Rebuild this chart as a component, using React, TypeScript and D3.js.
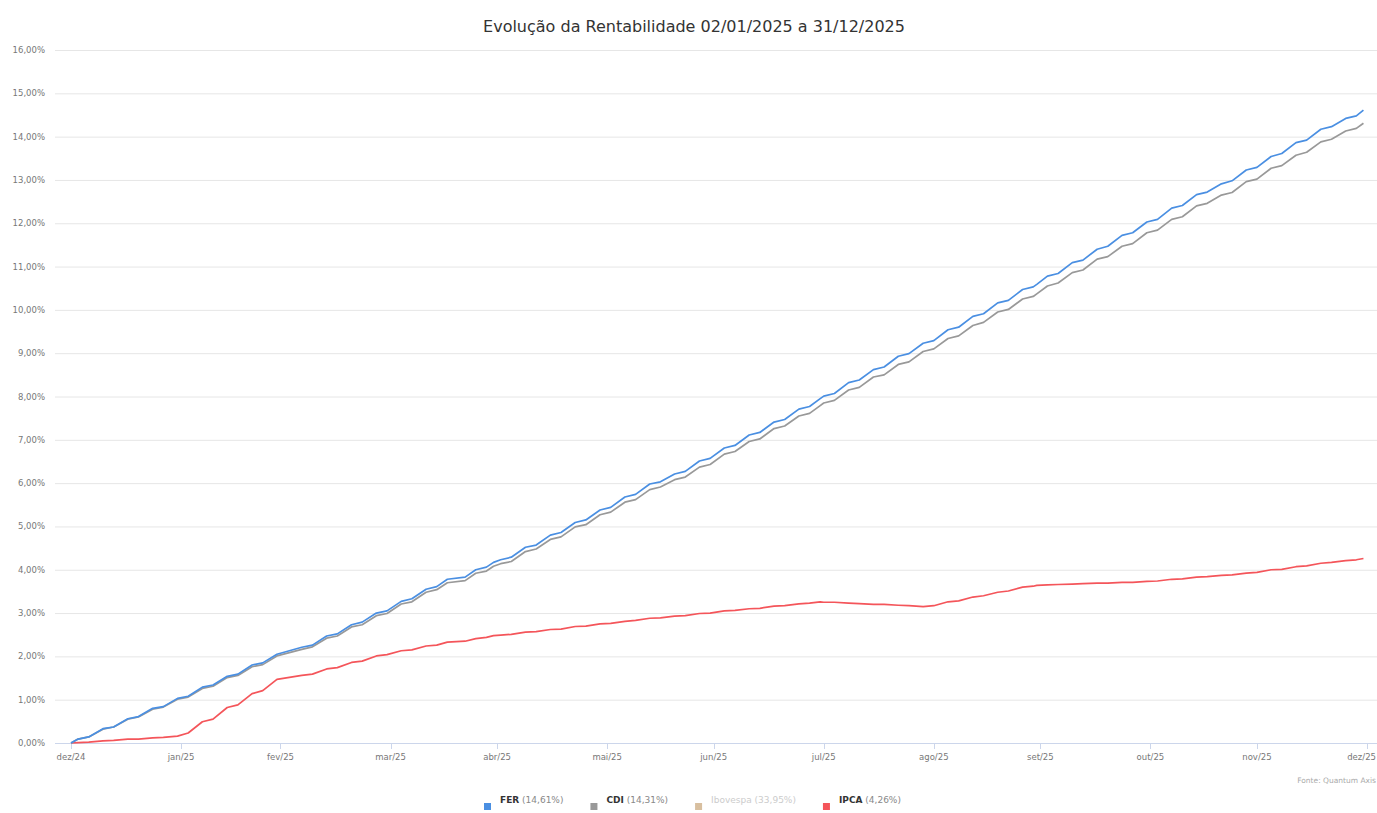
import React, { useEffect, useRef } from "react";
import * as d3 from "d3";

// checkpoints (Fri / Mon of each week, close values, % accumulated)
const dates = [
  "2025-01-01", "2025-01-03", "2025-01-06", "2025-01-10", "2025-01-13", "2025-01-17", "2025-01-20", "2025-01-24", "2025-01-27", "2025-01-31",
  "2025-02-03", "2025-02-07", "2025-02-10", "2025-02-14", "2025-02-17", "2025-02-21", "2025-02-24", "2025-02-28",
  "2025-03-07", "2025-03-10", "2025-03-14", "2025-03-17", "2025-03-21", "2025-03-24", "2025-03-28", "2025-03-31",
  "2025-04-04", "2025-04-07", "2025-04-11", "2025-04-14", "2025-04-17", "2025-04-22", "2025-04-25", "2025-04-28", "2025-04-30",
  "2025-05-02", "2025-05-05", "2025-05-09", "2025-05-12", "2025-05-16", "2025-05-19", "2025-05-23", "2025-05-26", "2025-05-30",
  "2025-06-02", "2025-06-06", "2025-06-09", "2025-06-13", "2025-06-16", "2025-06-20", "2025-06-23", "2025-06-27", "2025-06-30",
  "2025-07-04", "2025-07-07", "2025-07-11", "2025-07-14", "2025-07-18", "2025-07-21", "2025-07-25", "2025-07-28", "2025-07-31",
  "2025-08-01", "2025-08-04", "2025-08-08", "2025-08-11", "2025-08-15", "2025-08-18", "2025-08-22", "2025-08-25", "2025-08-29",
  "2025-09-01", "2025-09-05", "2025-09-08", "2025-09-12", "2025-09-15", "2025-09-19", "2025-09-22", "2025-09-26", "2025-09-29", "2025-09-30",
  "2025-10-03", "2025-10-06", "2025-10-10", "2025-10-13", "2025-10-17", "2025-10-20", "2025-10-24", "2025-10-27", "2025-10-31",
  "2025-11-03", "2025-11-07", "2025-11-10", "2025-11-14", "2025-11-17", "2025-11-21", "2025-11-24", "2025-11-28",
  "2025-12-01", "2025-12-05", "2025-12-08", "2025-12-12", "2025-12-15", "2025-12-19", "2025-12-22", "2025-12-26", "2025-12-29", "2025-12-31",
];

const fer = [
  0, 0.09, 0.14, 0.33, 0.37, 0.56, 0.61, 0.80, 0.84, 1.03,
  1.08, 1.29, 1.34, 1.54, 1.59, 1.80, 1.85, 2.05,
  2.21, 2.26, 2.47, 2.52, 2.73, 2.79, 3.00, 3.05,
  3.27, 3.33, 3.55, 3.61, 3.78, 3.83, 4.00, 4.06, 4.17,
  4.23, 4.29, 4.52, 4.57, 4.80, 4.86, 5.09, 5.15, 5.38,
  5.44, 5.68, 5.74, 5.98, 6.03, 6.21, 6.27, 6.51, 6.57,
  6.81, 6.87, 7.11, 7.17, 7.41, 7.47, 7.71, 7.77, 7.95,
  8.01, 8.07, 8.32, 8.38, 8.62, 8.68, 8.93, 8.99, 9.23,
  9.29, 9.54, 9.60, 9.85, 9.91, 10.16, 10.22, 10.47, 10.53, 10.59,
  10.78, 10.84, 11.09, 11.15, 11.40, 11.47, 11.72, 11.78, 12.03,
  12.09, 12.35, 12.41, 12.66, 12.72, 12.91, 12.98, 13.23,
  13.29, 13.54, 13.61, 13.86, 13.92, 14.17, 14.23, 14.42, 14.48, 14.61,
];

const cdi = [
  0, 0.09, 0.14, 0.32, 0.37, 0.55, 0.60, 0.78, 0.83, 1.01,
  1.06, 1.26, 1.31, 1.51, 1.56, 1.76, 1.81, 2.01,
  2.16, 2.22, 2.42, 2.47, 2.68, 2.73, 2.94, 2.99,
  3.21, 3.26, 3.48, 3.54, 3.70, 3.75, 3.92, 3.97, 4.08,
  4.14, 4.19, 4.42, 4.48, 4.70, 4.76, 4.99, 5.04, 5.27,
  5.33, 5.56, 5.62, 5.85, 5.91, 6.08, 6.14, 6.37, 6.43,
  6.67, 6.73, 6.96, 7.02, 7.26, 7.32, 7.55, 7.61, 7.79,
  7.85, 7.91, 8.15, 8.21, 8.45, 8.50, 8.74, 8.80, 9.04,
  9.10, 9.34, 9.40, 9.64, 9.71, 9.95, 10.01, 10.25, 10.31, 10.37,
  10.55, 10.62, 10.86, 10.92, 11.17, 11.23, 11.47, 11.53, 11.78,
  11.84, 12.09, 12.15, 12.40, 12.46, 12.65, 12.71, 12.96,
  13.02, 13.27, 13.33, 13.57, 13.64, 13.88, 13.94, 14.13, 14.19, 14.31,
];

const ipca = [
  0, 0.01, 0.02, 0.05, 0.06, 0.09, 0.09, 0.12, 0.13, 0.16,
  0.23, 0.49, 0.55, 0.82, 0.88, 1.14, 1.21, 1.47,
  1.56, 1.59, 1.71, 1.74, 1.86, 1.89, 2.01, 2.04,
  2.13, 2.15, 2.24, 2.26, 2.33, 2.35, 2.41, 2.44, 2.48,
  2.49, 2.51, 2.56, 2.57, 2.62, 2.63, 2.69, 2.70, 2.75,
  2.76, 2.81, 2.83, 2.88, 2.89, 2.93, 2.94, 2.99, 3.00,
  3.05, 3.06, 3.10, 3.11, 3.16, 3.17, 3.21, 3.23, 3.26,
  3.25, 3.25, 3.23, 3.22, 3.20, 3.20, 3.18, 3.17, 3.15,
  3.17, 3.26, 3.28, 3.37, 3.40, 3.48, 3.51, 3.60, 3.62, 3.64,
  3.65, 3.66, 3.67, 3.68, 3.69, 3.69, 3.71, 3.71, 3.73,
  3.74, 3.78, 3.79, 3.83, 3.84, 3.87, 3.88, 3.92,
  3.94, 4.00, 4.01, 4.07, 4.09, 4.15, 4.17, 4.21, 4.23, 4.26,
];

const monthLabels = ["dez/24", "jan/25", "fev/25", "mar/25", "abr/25", "mai/25", "jun/25", "jul/25", "ago/25", "set/25", "out/25", "nov/25", "dez/25"];
const yTicks = [0, 1, 2, 3, 4, 5, 6, 7, 8, 9, 10, 11, 12, 13, 14, 15, 16];

const seriesNames = ["FER", "CDI", "Ibovespa", "IPCA"];
const seriesTotals = ["(14,61%)", "(14,31%)", "(33,95%)", "(4,26%)"];
const seriesColors = ["#4a8fe2", "#999999", "#d8bf9f", "#f4555a"];
const seriesHidden = [false, false, true, false];

const FONT = "'DejaVu Sans', Verdana, sans-serif";

const App = () => {
  const svgRef = useRef<SVGSVGElement | null>(null);

  useEffect(() => {
    const width = 1377;
    const height = 813;
    const left = 55;
    const plotTop = 50;
    const plotBottom = 743;

    const svg = d3.select(svgRef.current).attr("width", width).attr("height", height);
    svg.selectAll("*").remove();

    const parse = d3.timeParse("%Y-%m-%d");
    const xs = dates.map((d) => parse(d) as Date);

    const x = d3.scaleTime()
      .domain([new Date(2025, 0, 1), new Date(2026, 0, 1)])
      .range([71, 1367]);
    const y = d3.scaleLinear().domain([0, 16]).range([plotBottom, plotTop]);

    const pt = d3.formatLocale({ decimal: ",", thousands: ".", grouping: [3], currency: ["R$", ""] });
    const fmt = pt.format(".2f");

    // title
    svg.append("text")
      .attr("x", 694).attr("y", 32)
      .attr("text-anchor", "middle")
      .attr("font-family", FONT).attr("font-size", 16)
      .attr("fill", "#333").text("Evolução da Rentabilidade 02/01/2025 a 31/12/2025");

    // grid + y labels
    const grid = svg.append("g");
    yTicks.forEach((t) => {
      if (t > 0) {
        grid.append("line")
          .attr("x1", left).attr("x2", width)
          .attr("y1", y(t) + 0.5).attr("y2", y(t) + 0.5)
          .attr("stroke", "#e6e6e6").attr("stroke-width", 1);
      }
      grid.append("text")
        .attr("x", 45).attr("y", y(t) + 3)
        .attr("text-anchor", "end")
        .attr("font-family", FONT).attr("font-size", 8.5)
        .attr("fill", "#777").text(fmt(t) + "%");
    });

    // x axis
    const ticks = d3.timeMonth.range(new Date(2025, 0, 1), new Date(2026, 0, 2));
    const axis = svg.append("g");
    axis.append("line")
      .attr("x1", left).attr("x2", width)
      .attr("y1", plotBottom + 0.5).attr("y2", plotBottom + 0.5)
      .attr("stroke", "#ccd6eb");
    ticks.forEach((t, i) => {
      const last = i === ticks.length - 1;
      axis.append("line")
        .attr("x1", Math.round(x(t)) + 0.5).attr("x2", Math.round(x(t)) + 0.5)
        .attr("y1", plotBottom).attr("y2", plotBottom + 6)
        .attr("stroke", "#ccd6eb");
      axis.append("text")
        .attr("x", last ? width - 1 : x(t)).attr("y", plotBottom + 17)
        .attr("text-anchor", last ? "end" : "middle")
        .attr("font-family", FONT).attr("font-size", 8.5)
        .attr("fill", "#777").text(monthLabels[i]);
    });

    // lines
    const line = d3.line<number>()
      .x((_, i) => x(xs[i]))
      .y((v) => y(v));

    const drawn = [
      { values: ipca, color: seriesColors[3] },
      { values: cdi, color: seriesColors[1] },
      { values: fer, color: seriesColors[0] },
    ];
    drawn.forEach((s) => {
      svg.append("path")
        .datum(s.values)
        .attr("d", line)
        .attr("fill", "none")
        .attr("stroke", s.color)
        .attr("stroke-width", 1.7)
        .attr("stroke-linejoin", "round");
    });

    // source
    svg.append("text")
      .attr("x", 1376).attr("y", 783)
      .attr("text-anchor", "end")
      .attr("font-family", FONT).attr("font-size", 7.5)
      .attr("fill", "#aaa").text("Fonte: Quantum Axis");

    // legend
    const legend = svg.append("g");
    const gap = 27;
    let cx = 0;
    seriesNames.forEach((name, i) => {
      const g = legend.append("g").attr("transform", `translate(${cx},0)`);
      g.append("rect")
        .attr("x", 0).attr("y", 803)
        .attr("width", 7).attr("height", 7)
        .attr("fill", seriesColors[i]);
      const txt = g.append("text")
        .attr("x", 16).attr("y", 803)
        .attr("font-family", FONT).attr("font-size", 9)
        .attr("fill", seriesHidden[i] ? "#cccccc" : "#333");
      txt.append("tspan").attr("font-weight", seriesHidden[i] ? "normal" : "bold").text(name);
      txt.append("tspan").attr("fill", seriesHidden[i] ? "#cccccc" : "#888").text(" " + seriesTotals[i]);
      const w = (txt.node() as SVGTextElement).getComputedTextLength();
      cx += 16 + w + gap;
    });
    const totalW = cx - gap;
    legend.attr("transform", `translate(${Math.round(692 - totalW / 2)},0)`);
  }, []);

  return (
    <div>
      <svg ref={svgRef} style={{ position: "absolute", left: 0, top: 0, background: "#fff" }}></svg>
    </div>
  );
};

export default App;
